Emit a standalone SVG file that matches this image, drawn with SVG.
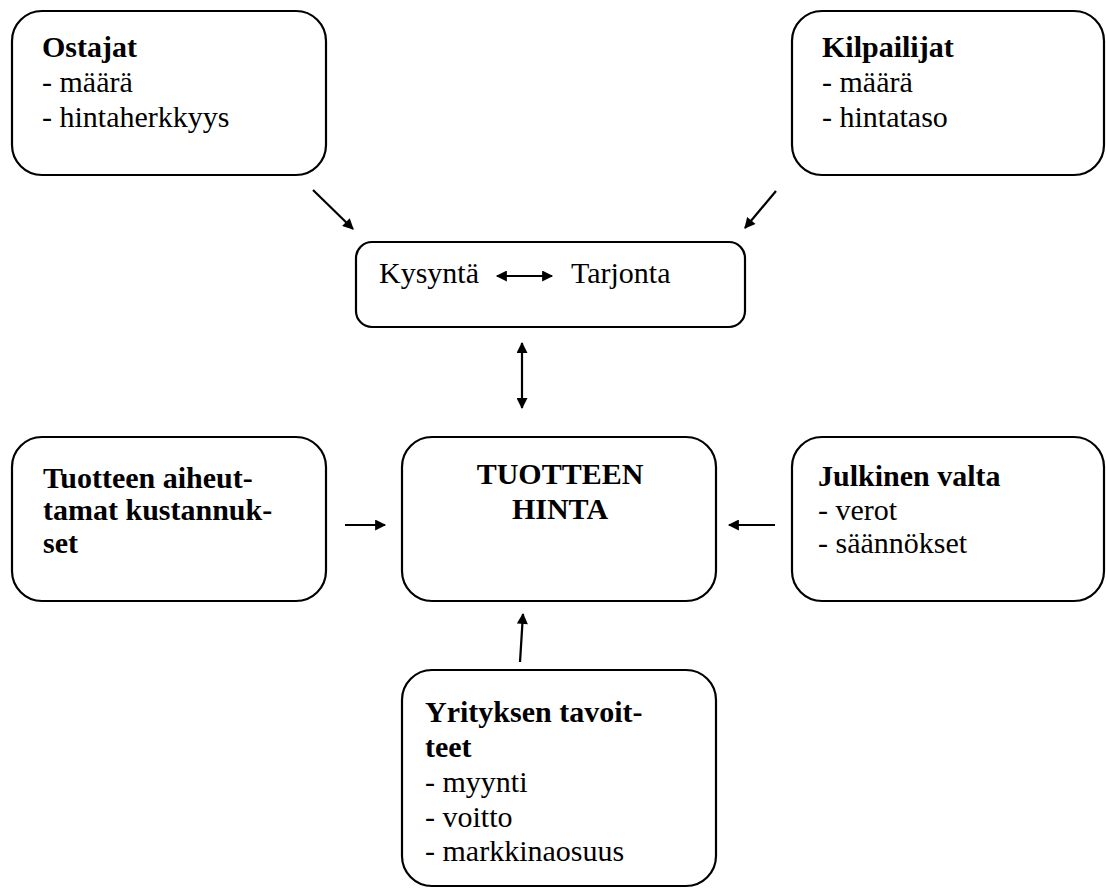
<svg xmlns="http://www.w3.org/2000/svg" width="1106" height="888" viewBox="0 0 1106 888">
<defs>
<style>
.box{fill:#fff;stroke:#000;stroke-width:2.2}
.t{font-size:30px;fill:#000}
.b{font-weight:bold}
.c{stroke:#000;stroke-width:2.2;fill:none}
</style>
<marker id="ah" viewBox="0 0 10 10" refX="9" refY="5" markerWidth="5.5" markerHeight="5" markerUnits="strokeWidth" orient="auto-start-reverse">
<path d="M0,0 L10,5 L0,10 z" fill="#000"/>
</marker>
</defs>
<rect width="1106" height="888" fill="#fff"/>
<g font-family="'Liberation Serif', 'Times New Roman', 'DejaVu Serif', serif">
<g id="ostajat">
<rect class="box" x="12" y="11" width="314" height="164" rx="30"/>
<text class="t b" x="42" y="57">Ostajat</text>
<text class="t" x="42" y="92">- määrä</text>
<text class="t" x="42" y="127">- hintaherkkyys</text>
</g>
<g id="kilpailijat">
<rect class="box" x="792" y="11" width="312" height="164" rx="30"/>
<text class="t b" x="822" y="57">Kilpailijat</text>
<text class="t" x="822" y="92">- määrä</text>
<text class="t" x="822" y="127">- hintataso</text>
</g>
<g id="kysynta">
<rect class="box" x="356" y="242" width="389" height="85" rx="16"/>
<text class="t" x="379" y="283">Kysyntä</text>
<text class="t" x="571" y="283">Tarjonta</text>
<line class="c" x1="497" y1="276" x2="552" y2="276" marker-start="url(#ah)" marker-end="url(#ah)"/>
</g>
<g id="kustannukset">
<rect class="box" x="12" y="437" width="314" height="164" rx="30"/>
<text class="t b" x="43" y="488">Tuotteen aiheut-</text>
<text class="t b" x="43" y="520">tamat kustannuk-</text>
<text class="t b" x="43" y="553">set</text>
</g>
<g id="hinta">
<rect class="box" x="402" y="437" width="314" height="164" rx="30"/>
<text class="t b" x="560" y="484" text-anchor="middle">TUOTTEEN</text>
<text class="t b" x="560" y="519" text-anchor="middle">HINTA</text>
</g>
<g id="julkinen">
<rect class="box" x="792" y="437" width="312" height="164" rx="30"/>
<text class="t b" x="818" y="486">Julkinen valta</text>
<text class="t" x="818" y="520">- verot</text>
<text class="t" x="818" y="553">- säännökset</text>
</g>
<g id="yritys">
<rect class="box" x="402" y="670" width="314" height="216" rx="30"/>
<text class="t b" x="425" y="722">Yrityksen tavoit-</text>
<text class="t b" x="425" y="757">teet</text>
<text class="t" x="425" y="792">- myynti</text>
<text class="t" x="425" y="827">- voitto</text>
<text class="t" x="425" y="861">- markkinaosuus</text>
</g>
</g>
<g id="connectors">
<line class="c" x1="313" y1="190" x2="353" y2="229" marker-end="url(#ah)"/>
<line class="c" x1="776" y1="191" x2="745" y2="228" marker-end="url(#ah)"/>
<line class="c" x1="522" y1="343" x2="522" y2="408" marker-start="url(#ah)" marker-end="url(#ah)"/>
<line class="c" x1="345" y1="525" x2="385" y2="525" marker-end="url(#ah)"/>
<line class="c" x1="775" y1="525" x2="729" y2="525" marker-end="url(#ah)"/>
<line class="c" x1="520" y1="662" x2="523" y2="614" marker-end="url(#ah)"/>
</g>
</svg>
